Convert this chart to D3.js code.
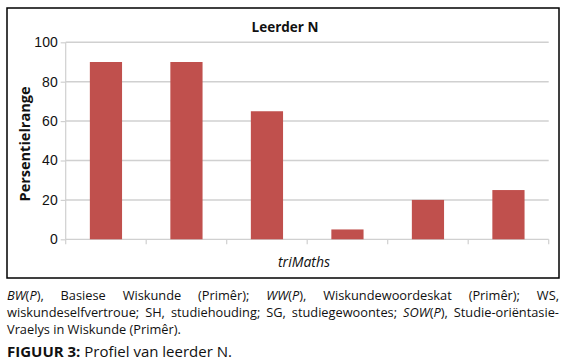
<!DOCTYPE html>
<html><head><meta charset="utf-8">
<script src="https://cdn.jsdelivr.net/npm/d3@7"></script>
<style>
html,body{margin:0;padding:0;background:#fff;}
#wrap{position:relative;width:566px;height:364px;overflow:hidden;}
svg{position:absolute;left:0;top:0;}
.cap{position:absolute;left:7px;width:552px;font-family:"Open Sans",sans-serif;font-size:12.8px;line-height:17px;color:#111;white-space:nowrap;}
.just{text-align:justify;text-align-last:justify;white-space:normal;}
.fig{position:absolute;left:7px;font-family:"Open Sans",sans-serif;font-size:15px;color:#111;}
</style></head>
<body><div id="wrap"></div>
<script>
const categories = ["BW(P)", "WW(P)", "WS", "SH", "SG", "SOW(P)"];
const values = [90, 90, 65, 5, 20, 25];
const yTicks = [0, 20, 40, 60, 80, 100];
const title = "Leerder N";
const yLabel = "Persentielrange";
const xLabel = "triMaths";

const W = 566, H = 364;
const wrap = d3.select("#wrap");
const svg = wrap.append("svg").attr("width", W).attr("height", H);

// chart border
svg.append("rect").attr("x", 7).attr("y", 8).attr("width", 552).attr("height", 270)
  .attr("fill", "#fff").attr("stroke", "#000").attr("stroke-width", 1.5);

const x = d3.scaleBand().domain(categories).range([65.7, 548.7]).paddingInner(0.6).paddingOuter(0.3);
const y = d3.scaleLinear().domain([0, 100]).range([239.3, 42.3]);

// gridlines
svg.append("g").selectAll("line").data(yTicks.filter(d => d > 0)).join("line")
  .attr("x1", 65.7).attr("x2", 548.7)
  .attr("y1", d => y(d)).attr("y2", d => y(d))
  .attr("stroke", "#d0d0d0").attr("stroke-width", 1.5);

// y axis
const ya = svg.append("g").attr("transform", "translate(65.7,0)")
  .call(d3.axisLeft(y).tickValues(yTicks).tickSize(5).tickPadding(3));
ya.select(".domain").attr("stroke", "#d0d0d0").attr("stroke-width", 1.2).attr("d", `M0,${y(100)}V${y(0)}`);
ya.selectAll(".tick line").attr("stroke", "#d0d0d0").attr("stroke-width", 1.2);
ya.selectAll(".tick text").attr("font-family", "Liberation Sans, Arial, sans-serif").attr("font-size", 14).attr("fill", "#111");

// x axis (ticks at band boundaries)
const bounds = categories.map(c => x(c) - x.step() * x.paddingInner() / 2).concat([548.7]);
svg.append("line").attr("x1", 65.7).attr("x2", 548.7).attr("y1", y(0)).attr("y2", y(0))
  .attr("stroke", "#d0d0d0").attr("stroke-width", 1.2);
svg.append("g").selectAll("line").data(bounds).join("line")
  .attr("x1", d => d).attr("x2", d => d).attr("y1", y(0)).attr("y2", y(0) + 5)
  .attr("stroke", "#d0d0d0").attr("stroke-width", 1.2);

// bars
svg.append("g").selectAll("rect").data(values).join("rect")
  .attr("x", (d, i) => x(categories[i])).attr("width", x.bandwidth())
  .attr("y", d => y(d)).attr("height", d => y(0) - y(d))
  .attr("fill", "#c0504d");

// title
svg.append("text").attr("x", 285).attr("y", 32).attr("text-anchor", "middle")
  .attr("font-family", "Open Sans, sans-serif").attr("font-weight", "bold").attr("font-size", 13.5)
  .attr("fill", "#111").text(title);

// y label
svg.append("text").attr("transform", "translate(30,144) rotate(-90)").attr("text-anchor", "middle")
  .attr("font-family", "Open Sans, sans-serif").attr("font-weight", "bold").attr("font-size", 14.5)
  .attr("fill", "#111").text(yLabel);

// x label
svg.append("text").attr("x", 304).attr("y", 267).attr("text-anchor", "middle")
  .attr("font-family", "Open Sans, sans-serif").attr("font-style", "italic").attr("font-size", 14)
  .attr("fill", "#111").text(xLabel);

// caption
wrap.append("div").attr("class", "cap just").style("top", "287px")
  .html("<i>BW</i>(<i>P</i>), Basiese Wiskunde (Primêr); <i>WW</i>(<i>P</i>), Wiskundewoordeskat (Primêr); WS,");
wrap.append("div").attr("class", "cap just").style("top", "304px")
  .html("wiskundeselfvertroue; SH, studiehouding; SG, studiegewoontes; <i>SOW</i>(<i>P</i>), Studie-oriëntasie-");
wrap.append("div").attr("class", "cap").style("top", "321px")
  .html("Vraelys in Wiskunde (Primêr).");
wrap.append("div").attr("class", "fig").style("top", "341px")
  .html("<b>FIGUUR 3:</b> Profiel van leerder N.");
</script></body></html>
